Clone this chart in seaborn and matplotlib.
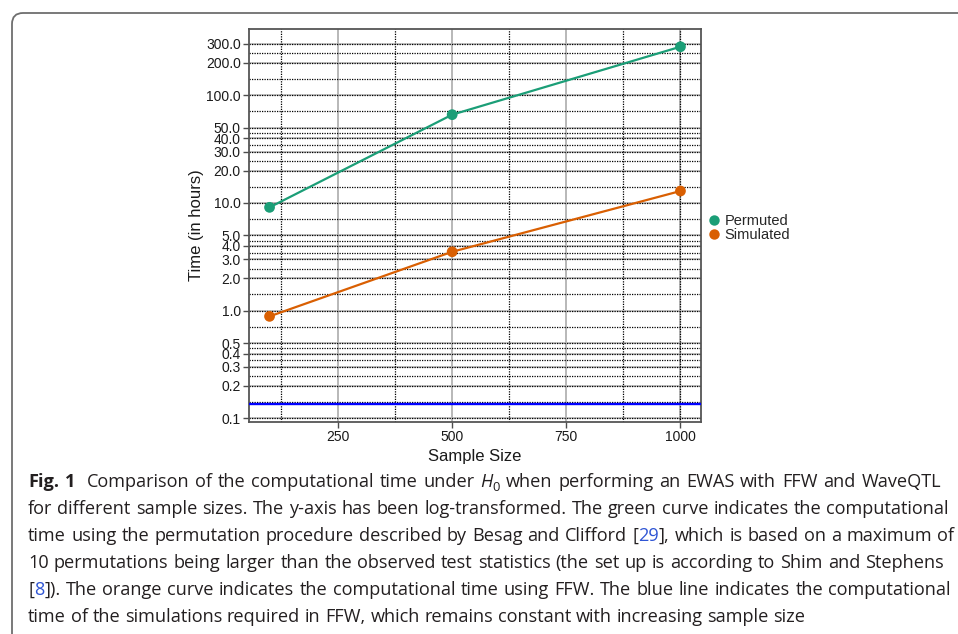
import numpy as np
import pandas as pd
import matplotlib
matplotlib.use("Agg")
import matplotlib.pyplot as plt
import seaborn as sns
from matplotlib.lines import Line2D
from matplotlib.patches import FancyBboxPatch
from matplotlib.transforms import IdentityTransform
from matplotlib.ticker import NullLocator, FixedLocator

# ---------------- data ----------------
sample_sizes = [100, 500, 1000]
permuted_hours = [9.1, 66.0, 282.0]
simulated_hours = [0.885, 3.52, 12.9]
simulation_only_hours = 0.136
series_names = ["Permuted", "Simulated"]
series_colors = ["#1b9e77", "#d95f02"]
y_ticks = [0.1, 0.2, 0.3, 0.4, 0.5, 1, 2, 3, 4, 5, 10, 20, 30, 40, 50, 100, 200, 300]
y_tick_labels = ["0.1", "0.2", "0.3", "0.4", "0.5", "1.0", "2.0", "3.0", "4.0", "5.0",
                 "10.0", "20.0", "30.0", "40.0", "50.0", "100.0", "200.0", "300.0"]
x_ticks = [250, 500, 750, 1000]
x_tick_labels = ["250", "500", "750", "1000"]
x_minor_grid = [125, 375, 625, 875, 1000]

df = pd.DataFrame({
    "Sample Size": sample_sizes * 2,
    "Time": permuted_hours + simulated_hours,
    "Method": [series_names[0]] * len(sample_sizes) + [series_names[1]] * len(sample_sizes),
})

sns.set_theme(style="white")
plt.rcParams["font.family"] = ["Liberation Sans", "DejaVu Sans"]

W, H = 958, 634
fig = plt.figure(figsize=(W / 100, H / 100), dpi=100)

# frame around figure
frame = FancyBboxPatch((12, -30), 1000, H - 13 + 30,
                       boxstyle="round,pad=0,rounding_size=11",
                       transform=IdentityTransform(), fill=False,
                       edgecolor="#6e6e6e", lw=1.3)
fig.patches.append(frame)

ax = fig.add_axes([249 / W, 1 - 422 / H, (701 - 249) / W, (422 - 29) / H])
ax.set_yscale("log")
ax.set_xlim(55, 1045)
ax.set_ylim(0.0925, 412)

# grid
y_minor_grid = [np.sqrt(a * b) for a, b in zip(y_ticks[:-1], y_ticks[1:])]
for v in y_ticks:
    ax.axhline(v, color="#c4c4c4", lw=1.4, zorder=0.2)
for v in y_ticks + y_minor_grid:
    ax.axhline(v, color="black", lw=0.9, ls=(0, (1.0, 1.0)), zorder=0.5)
for v in x_ticks:
    ax.axvline(v, color="#b8b8b8", lw=1.4, zorder=0.2)
for v in x_minor_grid:
    ax.axvline(v, color="black", lw=0.9, ls=(0, (1.0, 1.0)), zorder=0.5)

sns.lineplot(data=df, x="Sample Size", y="Time", hue="Method", hue_order=series_names,
             palette=series_colors, lw=1.6, legend=False, ax=ax, zorder=3)
sns.scatterplot(data=df, x="Sample Size", y="Time", hue="Method", hue_order=series_names,
                palette=series_colors, s=60, edgecolor="none", legend=False, ax=ax, zorder=4)
ax.axhline(simulation_only_hours, color="#0000ff", lw=1.7, zorder=3)

ax.yaxis.set_major_locator(FixedLocator(y_ticks))
ax.set_yticklabels(y_tick_labels)
ax.yaxis.set_minor_locator(NullLocator())
ax.set_xticks(x_ticks)
ax.set_xticklabels(x_tick_labels)
ax.tick_params(axis="both", which="major", bottom=True, left=True, length=4, width=1,
               color="#4d4d4d", labelsize=10, labelcolor="#1a1a1a", pad=2)
for s in ax.spines.values():
    s.set_visible(True)
    s.set_color("#555555")
    s.set_linewidth(1.3)
ax.set_xlabel("Sample Size", fontsize=12, color="#1a1a1a", labelpad=3)
ax.set_ylabel("Time (in hours)", fontsize=12, color="#1a1a1a", labelpad=1)

handles = [Line2D([], [], marker="o", ls="", color=c, markersize=7.5, markeredgewidth=0)
           for c in series_colors]
fig.legend(handles, series_names, loc="center left", bbox_to_anchor=(708 / W, 1 - 228 / H),
           frameon=False, fontsize=10.5, handlelength=0.8, handletextpad=0.35,
           labelspacing=0.05, borderpad=0, borderaxespad=0)

# ---------------- caption ----------------
cap_color = "#231f20"
link_color = "#2f55d4"
cap_family = ["Open Sans", "DejaVu Sans"]
caption_lines = [
    [("Fig. 1", "bold"), ("  Comparison of the computational time under ", ""), ("H", "italic"),
     ("0", "sub"), (" when performing an EWAS with FFW and WaveQTL", "")],
    [("for different sample sizes. The y-axis has been log-transformed. The green curve indicates the computational", "")],
    [("time using the permutation procedure described by Besag and Clifford [", ""), ("29", "link"),
     ("], which is based on a maximum of", "")],
    [("10 permutations being larger than the observed test statistics (the set up is according to Shim and Stephens", "")],
    [("[", ""), ("8", "link"), ("]). The orange curve indicates the computational time using FFW. The blue line indicates the computational", "")],
    [("time of the simulations required in FFW, which remains constant with increasing sample size", "")],
]
line_right = [941, 949, 954, 944, 951, None]
line_base = [487.3, 514.2, 541.1, 568.0, 594.9, 621.8]
left_px = 28

renderer = fig.canvas.get_renderer()


def props(kind, fs):
    p = dict(family=cap_family, color=cap_color, fontsize=fs)
    if kind == "bold":
        p["fontweight"] = "bold"
    elif kind == "italic":
        p["fontstyle"] = "italic"
    elif kind == "sub":
        p["fontsize"] = fs * 0.72
    elif kind == "link":
        p["color"] = link_color
    return p


def measure(s, kind, fs):
    t = fig.text(0, 0, s, **props(kind, fs))
    w = t.get_window_extent(renderer=renderer).width
    t.remove()
    return w


def split_words(runs):
    words, gaps, cur, pending = [], [], [], 0
    for text, kind in runs:
        parts = text.split(" ")
        for i, p in enumerate(parts):
            if i > 0:
                if cur:
                    words.append(cur)
                    gaps.append(pending)
                    cur = []
                    pending = 0
                pending += 1
            if p:
                cur.append((p, kind))
    if cur:
        words.append(cur)
        gaps.append(pending)
    gaps[0] = 0
    return words, gaps


def layout(runs, fs):
    words, gaps = split_words(runs)
    widths = [[measure(s, k, fs) for s, k in w] for w in words]
    sp = measure("a a", "", fs) - measure("aa", "", fs)
    natural = sum(sum(w) for w in widths) + sum(gaps) * sp
    return words, gaps, widths, sp, natural


fs = 13.6
ratios = []
for runs, r in zip(caption_lines, line_right):
    if r is not None:
        ratios.append(layout(runs, fs)[4] / (r - left_px))
mx = max(ratios)
if mx > 0.995:
    fs *= 0.995 / mx

for runs, r, yb in zip(caption_lines, line_right, line_base):
    words, gaps, widths, sp, natural = layout(runs, fs)
    if r is not None:
        sp = sp + ((r - left_px) - natural) / sum(gaps)
    x = left_px
    for w, g, ws in zip(words, gaps, widths):
        x += g * sp
        for (s, k), wd in zip(w, ws):
            dy = -3.5 if k == "sub" else 0
            fig.text(x / W, 1 - (yb - dy) / H, s, va="baseline", ha="left", **props(k, fs))
            x += wd

fig.savefig("out.png", dpi=100)
